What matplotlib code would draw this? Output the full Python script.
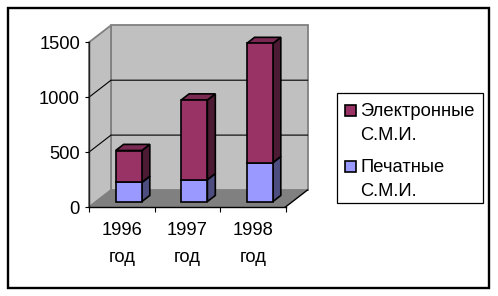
import matplotlib
matplotlib.use("Agg")
import matplotlib.pyplot as plt
from matplotlib.patches import Polygon, Rectangle

# ---- data ----
categories = ["1996\nгод", "1997\nгод", "1998\nгод"]
series_names = ["Электронные\nС.М.И.", "Печатные\nС.М.И."]
printed = [175, 200, 355]
electronic = [290, 725, 1085]
yticks = [0, 500, 1000, 1500]

# ---- styles ----
FONT = "Liberation Sans"
FS = 13.2
plt.rcParams["font.family"] = [FONT, "DejaVu Sans"]

C_ELEC = ("#993366", "#7a2952", "#4d1a33")   # front, top, side
C_PRINT = ("#9999ff", "#7a7acc", "#4d4d80")
WALL = "#c0c0c0"
FLOOR = "#808080"

W, H = 498, 296
fig = plt.figure(figsize=(W / 100, H / 100), dpi=100)

# axes placed so the front plane matches the reference
x0, x1 = 89, 285.5
y0, y1 = 207, 42.3
ax = fig.add_axes([x0 / W, (H - y0) / H, (x1 - x0) / W, (y0 - y1) / H])
n = len(categories)
ymax = 1500
ax.set_xlim(0, n)
ax.set_ylim(0, ymax)

px_per_cat = (x1 - x0) / n
px_per_val = (y0 - y1) / ymax
DX = 22 / px_per_cat      # depth offset in category units
DY = 17 / px_per_val      # depth offset in value units


def P(x, v, d):
    return (x + d * DX, v + d * DY)


def poly(pts, fc, ec="black", lw=1.2, z=1):
    ax.add_patch(Polygon(pts, closed=True, facecolor=fc, edgecolor=ec,
                         linewidth=lw, zorder=z, clip_on=False,
                         joinstyle="miter"))


# walls and floor
poly([P(0, 0, 1), P(n, 0, 1), P(n, ymax, 1), P(0, ymax, 1)], WALL, "#808080", 1.3, 0.5)
poly([P(0, 0, 0), P(0, 0, 1), P(0, ymax, 1), P(0, ymax, 0)], WALL, "#808080", 1.3, 0.5)
poly([P(0, 0, 0), P(n, 0, 0), P(n, 0, 1), P(0, 0, 1)], FLOOR, "none", 0, 0.6)
ax.plot(*zip(P(n, 0, 0), P(n, 0, 1)), color="black", lw=1.0, zorder=0.7, clip_on=False)

# gridlines
for v in yticks[1:-1]:
    ax.plot(*zip(P(0, v, 0), P(0, v, 1), P(n, v, 1)), color="black", lw=0.8,
            zorder=0.8, clip_on=False)

# bars
bw = 0.4
d0, d1 = 0.32, 0.68


def box(xc, b, t, cols, z):
    xl, xr = xc - bw / 2, xc + bw / 2
    poly([P(xr, b, d0), P(xr, b, d1), P(xr, t, d1), P(xr, t, d0)], cols[2], z=z)
    poly([P(xl, t, d0), P(xr, t, d0), P(xr, t, d1), P(xl, t, d1)], cols[1], z=z)
    poly([P(xl, b, d0), P(xr, b, d0), P(xr, t, d0), P(xl, t, d0)], cols[0], z=z)


for i in range(n):
    xc = i + 0.5
    box(xc, 0, printed[i], C_PRINT, 2 + i)
    box(xc, printed[i], printed[i] + electronic[i], C_ELEC, 2.5 + i)

# axes styling
for s in ["top", "right"]:
    ax.spines[s].set_visible(False)
ax.spines["left"].set_color("#202020")
ax.spines["left"].set_linewidth(1.0)
ax.spines["bottom"].set_linewidth(1.0)
ax.spines["left"].set_zorder(1)
ax.spines["bottom"].set_zorder(1)
ax.patch.set_visible(False)

ax.set_yticks(yticks)
ax.set_yticklabels([str(v) for v in yticks])
ax.tick_params(axis="y", direction="out", length=3, width=0.8, pad=3.5,
               labelsize=FS)
ax.set_xticks(range(n + 1))
ax.set_xticklabels([])
ax.tick_params(axis="x", which="major", direction="out", length=3.5, width=0.8)

# category labels: each line placed at its own baseline below the axis
line_offsets_px = [28, 54.7]
for i, lab in enumerate(categories):
    for k, line in enumerate(lab.split("\n")):
        ax.annotate(line, xy=(i + 0.5, 0), xycoords=("data", "axes fraction"),
                    xytext=(0, -line_offsets_px[k] * 0.72), textcoords="offset points",
                    ha="center", va="baseline", fontsize=FS,
                    annotation_clip=False)


# legend (manual, figure pixel coordinates)
def fx(x):
    return x / W


def fy(y):
    return 1 - y / H


lx0, ly0, lx1, ly1 = 336.7, 92.7, 482.7, 203.3
fig.patches.append(Rectangle((fx(lx0), fy(ly1)), fx(lx1 - lx0), (ly1 - ly0) / H,
                             transform=fig.transFigure, facecolor="white",
                             edgecolor="black", linewidth=0.9))
leg_items = [(series_names[0], C_ELEC[0], 115.7), (series_names[1], C_PRINT[0], 171.7)]
for name, col, base in leg_items:
    fig.patches.append(Rectangle((fx(345), fy(base)), fx(11), 11 / H,
                                 transform=fig.transFigure, facecolor=col,
                                 edgecolor="black", linewidth=1.2))
    for k, line in enumerate(name.split("\n")):
        fig.text(fx(360), fy(base + 24.3 * k), line, fontsize=FS, ha="left",
                 va="baseline", transform=fig.transFigure)

# outer border
fig.patches.append(Rectangle((fx(7.8), fy(288)), fx(488.7 - 7.8), (288 - 8.3) / H,
                             transform=fig.transFigure, facecolor="none",
                             edgecolor="black", linewidth=1.7))

fig.savefig("out.png", dpi=100)
